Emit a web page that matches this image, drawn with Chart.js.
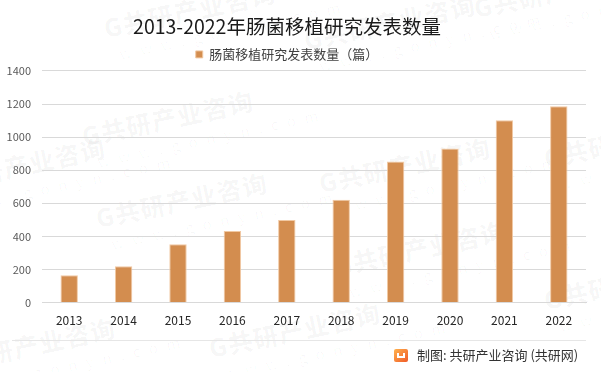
<!DOCTYPE html>
<html lang="zh">
<head>
    <meta charset="UTF-8">
    <title>2013-2022年肠菌移植研究发表数量</title>
    <style>
        html, body {
            margin: 0;
            padding: 0;
            width: 601px;
            height: 372px;
            overflow: hidden;
            background: #fff;
            font-family: "Noto Sans CJK SC", "Noto Sans", sans-serif;
        }
        .wm {
            position: absolute;
            transform: rotate(-12deg);
            transform-origin: left top;
            color: rgba(0, 0, 0, 0.03);
            white-space: nowrap;
            pointer-events: none;
        }
        .wm b {
            display: block;
            font-size: 25px;
            font-weight: 900;
            letter-spacing: 1px;
        }
        .wm span {
            display: block;
            font-size: 15px;
            letter-spacing: 9px;
            margin-left: 10px;
        }
        #wrap {
            position: absolute;
            left: -27px;
            top: 0;
            width: 628px;
            height: 372px;
        }
        #sep {
            position: absolute;
            left: 12px;
            top: 340px;
            width: 574px;
            height: 1px;
            background: #e6e6e6;
        }
        #source {
            position: absolute;
            left: 394px;
            top: 346px;
            font-size: 13px;
            color: #333;
            line-height: 18px;
            display: flex;
            align-items: center;
        }
        #logo {
            width: 14px;
            height: 13px;
            margin-right: 9px;
            border-radius: 2px;
            background: linear-gradient(135deg, #ffb24d, #f05a28);
            position: relative;
        }
        #logo::after {
            content: "";
            position: absolute;
            left: 3px;
            top: 4px;
            width: 8px;
            height: 5px;
            border: 2px solid #fff;
            border-top: none;
            box-sizing: border-box;
        }
    </style>
    <script src="https://cdn.jsdelivr.net/npm/chart.js"></script>
</head>
<body>
    <div id="marks"></div>
    <div id="sep"></div>
    <div id="wrap">
        <canvas id="paperChart"></canvas>
    </div>
    <div id="source"><div id="logo"></div>制图: 共研产业咨询 (共研网)</div>

    <script>
        // 数据
        const years = ['2013', '2014', '2015', '2016', '2017', '2018', '2019', '2020', '2021', '2022'];
        const papers = [166, 219, 353, 432, 499, 621, 852, 931, 1102, 1187];
        const seriesName = '肠菌移植研究发表数量（篇）';
        const yMax = 1400;
        const yStep = 200;

        // 水印
        const markSpots = [[78, 118], [92, 200], [315, 165], [330, 248], [540, 140], [300, 22],
                           [-70, 165], [205, 330], [-60, 345], [540, 282], [470, -10], [100, 10]];
        const marks = document.getElementById('marks');
        markSpots.forEach(p => {
            const d = document.createElement('div');
            d.className = 'wm';
            d.style.left = p[0] + 'px';
            d.style.top = p[1] + 'px';
            d.innerHTML = '<b>G共研产业咨询</b><span>www.gonyn.com</span>';
            marks.appendChild(d);
        });

        const ctx = document.getElementById('paperChart').getContext('2d');
        const paperChart = new Chart(ctx, {
            type: 'bar',
            data: {
                labels: years,
                datasets: [{
                    label: seriesName,
                    data: papers,
                    backgroundColor: '#d38d4f',
                    borderColor: '#f1c9a3',
                    borderWidth: 1,
                    categoryPercentage: 1,
                    barPercentage: 0.32
                }]
            },
            options: {
                responsive: true,
                maintainAspectRatio: false,
                animation: false,
                layout: {
                    padding: { left: 15, right: 15, top: 0, bottom: 33 }
                },
                plugins: {
                    title: {
                        display: true,
                        text: '2013-2022年肠菌移植研究发表数量',
                        color: '#1a1a1a',
                        font: { size: 19.5, weight: 'normal', family: '"Noto Sans CJK SC", sans-serif' },
                        padding: { top: 15, bottom: 5 }
                    },
                    legend: {
                        labels: {
                            boxWidth: 7,
                            boxHeight: 7,
                            padding: 4.5,
                            color: '#404040',
                            font: { size: 13, family: '"Noto Sans CJK SC", sans-serif' }
                        }
                    },
                    tooltip: { enabled: false }
                },
                scales: {
                    x: {
                        grid: { display: false, drawTicks: false },
                        border: { color: '#d9d9d9' },
                        ticks: {
                            padding: 11,
                            color: '#262626',
                            font: { size: 12, family: '"Noto Sans CJK SC", sans-serif' }
                        }
                    },
                    y: {
                        min: 0,
                        max: yMax,
                        afterFit: s => { s.width = 54; },
                        grid: { color: '#d9d9d9', drawTicks: false },
                        border: { display: false },
                        ticks: {
                            stepSize: yStep,
                            padding: 11,
                            color: '#595959',
                            font: { size: 11, family: '"Noto Sans CJK SC", sans-serif' },
                            callback: v => String(v)
                        }
                    }
                }
            }
        });
    </script>
</body>
</html>
